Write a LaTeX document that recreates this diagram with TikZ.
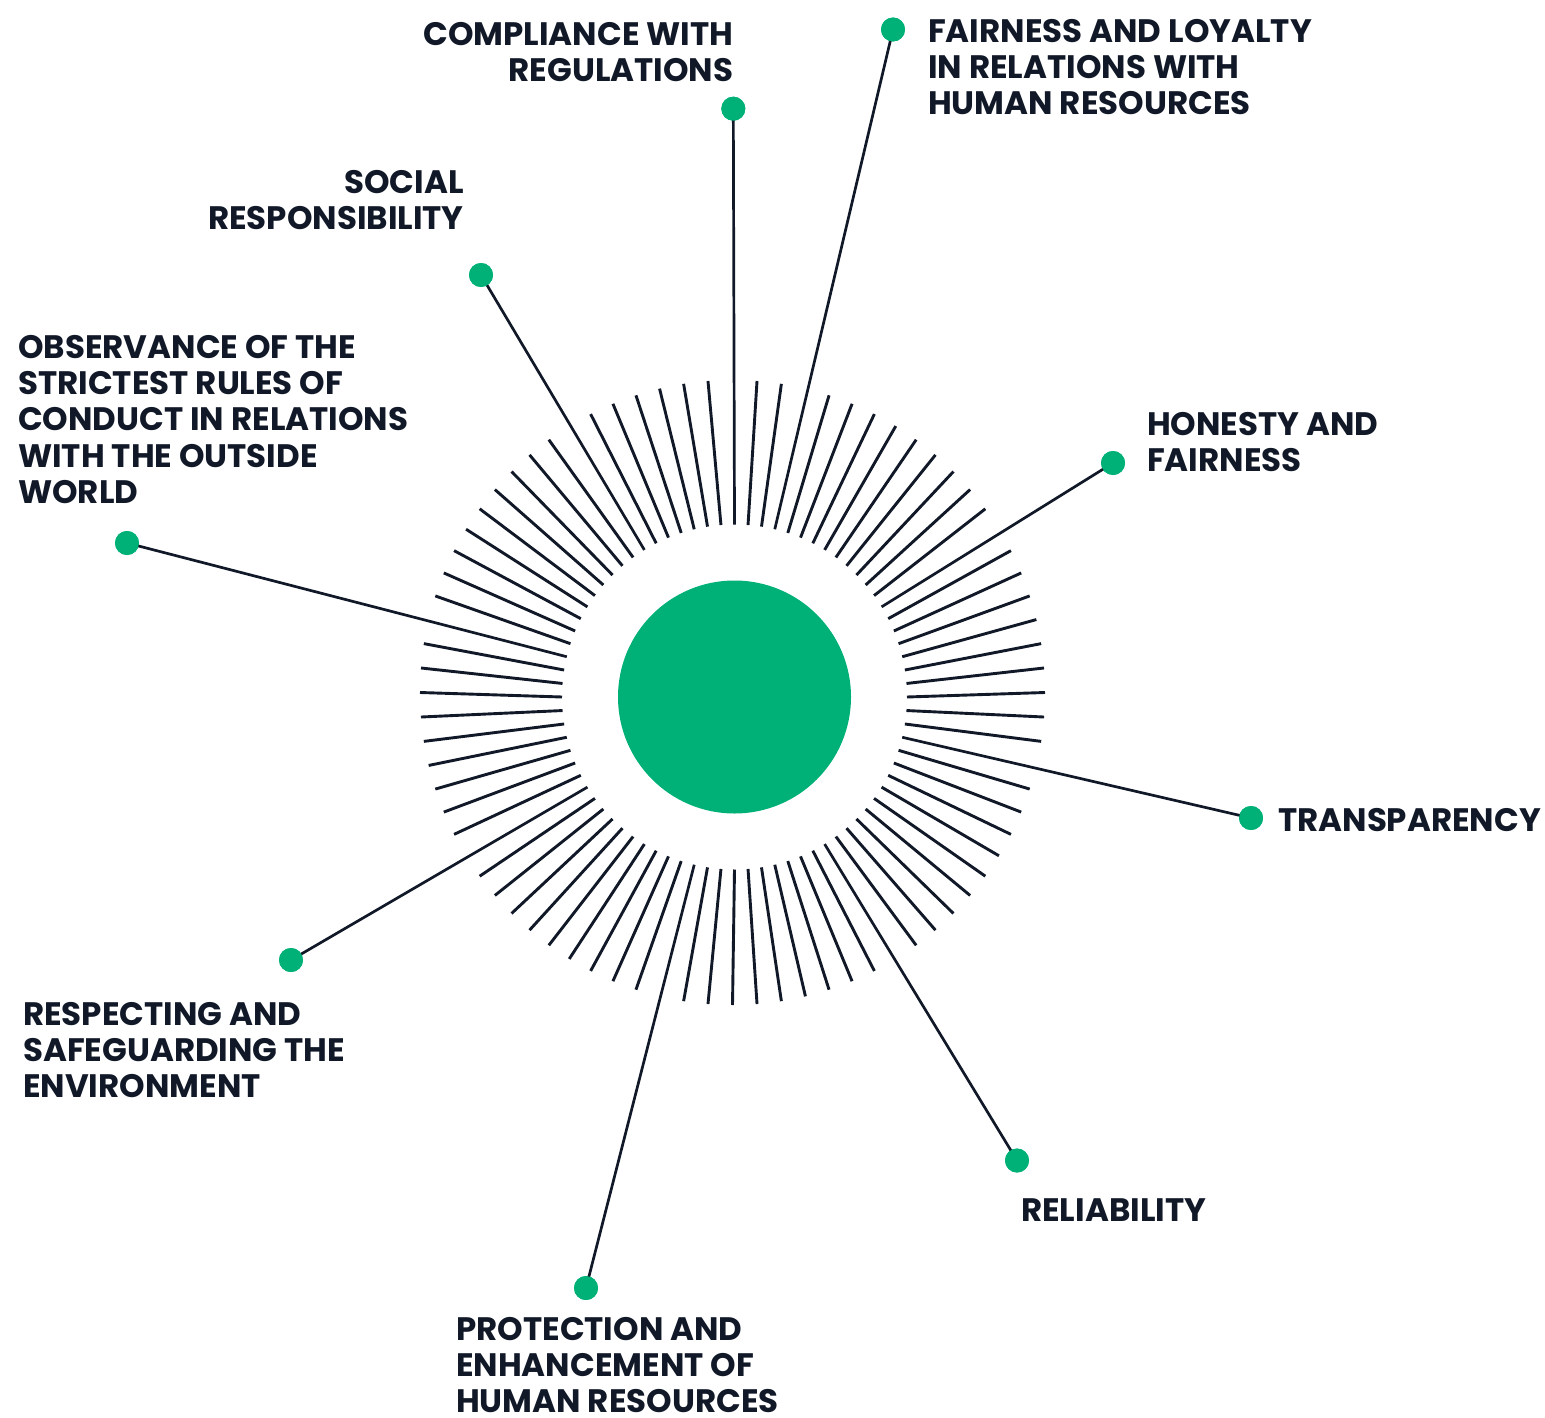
\documentclass[tikz,border=0pt]{standalone}
\usepackage{fontspec}
\setmainfont{Poppins}
\usetikzlibrary{calc}

\definecolor{ink}{RGB}{17,25,40}
\definecolor{leaf}{RGB}{0,177,119}

\newcommand\lblfont{\fontsize{32.5}{36.3}\selectfont\bfseries}

% Hub geometry (one unit = one pt, y grows downwards)
\newcommand\hubx{734.5}
\newcommand\huby{697}
\newcommand\rayx{732.5}
\newcommand\rayy{692.5}
\newcommand\rin{172.5}
\newcommand\rout{312.5}

\tikzset{
  ray/.style={draw=ink, line width=2.9pt},
  link/.style={draw=ink, line width=2.7pt},
  dot/.style={circle, fill=leaf, minimum size=24pt, inner sep=0pt},
  lbl/.style={inner sep=0pt, text=ink, font=\lblfont},
}

\begin{document}
\begin{tikzpicture}[x=1pt, y=-1pt]
\useasboundingbox (0,0) rectangle (1545,1418);

% central disc
\node[circle, fill=leaf, minimum size=233pt, inner sep=0pt] (hub) at (\hubx,\huby) {};

% the ring of short rays (80 rays, 4.5 degrees apart); the nine
% positions used by the value connectors are left out here
\foreach \i in {0,...,79}{
  \pgfmathtruncatemacro\m{mod(\i,10)}
  \pgfmathtruncatemacro\skip{(\m==7) || (\i==20)}
  \ifnum\skip=0
    \pgfmathsetmacro\a{-\i*4.5}
    \draw[ray] ($(\hubx,\huby)+(\a:\rin)$) -- ($(\rayx,\rayy)+(\a:\rout)$);
  \fi
}

% start points of the connectors on the inner ring
\coordinate (s-comp)    at ($(\hubx,\huby)+(-90:\rin)$);
\coordinate (s-fair)    at ($(\hubx,\huby)+(-76.5:\rin)$);
\coordinate (s-hon)     at ($(\hubx,\huby)+(-31.5:\rin)$);
\coordinate (s-transp)  at ($(\hubx,\huby)+(13.5:\rin)$);
\coordinate (s-rel)     at ($(\hubx,\huby)+(58.5:\rin)$);
\coordinate (s-prot)    at ($(\hubx,\huby)+(103.5:\rin)$);
\coordinate (s-resp)    at ($(\hubx,\huby)+(148.5:\rin)$);
\coordinate (s-obs)     at ($(\hubx,\huby)+(193.5:\rin)$);
\coordinate (s-soc)     at ($(\hubx,\huby)+(238.5:\rin)$);

% end dots
\node[dot] (d-comp)   at (733.3,108.7) {};
\node[dot] (d-fair)   at (893,29.5) {};
\node[dot] (d-hon)    at (1113,463) {};
\node[dot] (d-transp) at (1251,818) {};
\node[dot] (d-rel)    at (1017,1160.5) {};
\node[dot] (d-prot)   at (586,1288) {};
\node[dot] (d-resp)   at (291,960) {};
\node[dot] (d-obs)    at (127,543) {};
\node[dot] (d-soc)    at (481,275) {};

% connectors
\foreach \k in {comp,fair,hon,transp,rel,prot,resp,obs,soc}
  \draw[link] (s-\k) -- (d-\k.center);
\foreach \k in {comp,fair,hon,transp,rel,prot,resp,obs,soc}
  \node[dot] at (d-\k) {};

% labels
\node[lbl, anchor=north east, align=right] (t-comp) at (733.5,22)
  {COMPLIANCE WITH\\REGULATIONS};
\node[lbl, anchor=north west, align=left] (t-fair) at (928,19)
  {FAIRNESS AND LOYALTY\\IN RELATIONS WITH\\HUMAN RESOURCES};
\node[lbl, anchor=north west, align=left] (t-hon) at (1147,412)
  {HONESTY AND\\FAIRNESS};
\node[lbl, anchor=north east, align=right] (t-soc) at (464,170)
  {SOCIAL\\RESPONSIBILITY};
\node[lbl, anchor=north west, align=left] (t-obs) at (18,335)
  {OBSERVANCE OF THE\\STRICTEST RULES OF\\CONDUCT IN RELATIONS\\WITH THE OUTSIDE\\WORLD};
\node[lbl, anchor=north west, align=left] (t-transp) at (1278,808)
  {TRANSPARENCY};
\node[lbl, anchor=north west, align=left] (t-rel) at (1021,1198)
  {RELIABILITY};
\node[lbl, anchor=north west, align=left] (t-prot) at (456,1317)
  {PROTECTION AND\\ENHANCEMENT OF\\HUMAN RESOURCES};
\node[lbl, anchor=north west, align=left] (t-resp) at (23,1002)
  {RESPECTING AND\\SAFEGUARDING THE\\ENVIRONMENT};
\end{tikzpicture}
\end{document}
